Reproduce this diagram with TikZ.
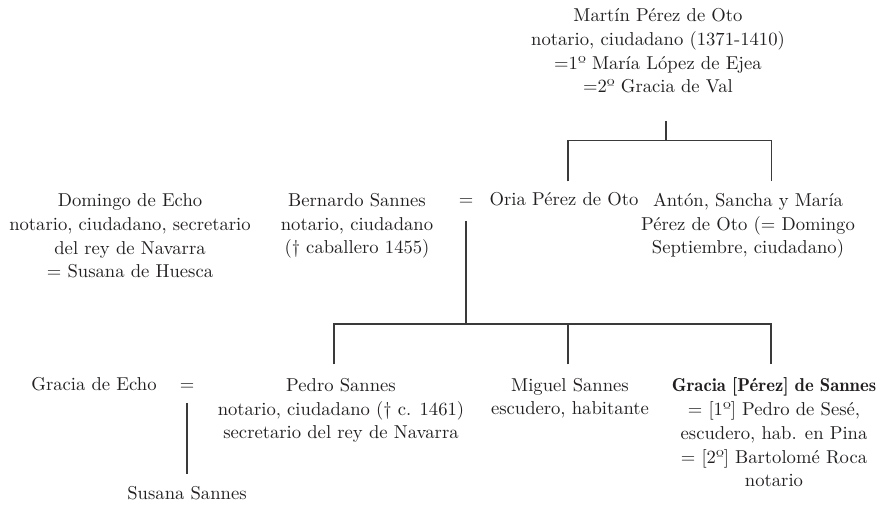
\documentclass[tikz,border=0pt]{standalone}
\usepackage{tikz}
\definecolor{ink}{HTML}{231F20}
\definecolor{rule}{HTML}{3A3A3A}

\begin{document}
\begin{tikzpicture}[x=0.2mm, y=-0.2mm,
    person/.style={align=center, anchor=base, inner sep=0pt, text=ink,
                   font=\fontsize{10.6}{13.6}\selectfont},
    tie/.style={draw=rule, line width=0.6pt}]
    \useasboundingbox (0,0) rectangle (883,505);

    % nodes sit on the baseline of their last line
    \node[person] at (658,93) (mpo) {Mart\'in P\'erez de Oto\\notario, ciudadano (1371-1410)\\=1º Mar\'ia L\'opez de Ejea\\=2º Gracia de Val};

    \node[person] at (130,278) (domingo) {Domingo de Echo\\notario, ciudadano, secretario\\del rey de Navarra\\= Susana de Huesca};
    \node[person] at (357,254) (bernardo) {Bernardo Sannes\\notario, ciudadano\\(† caballero 1455)};
    \node[person] at (466,206) (eqA) {=};
    \node[person] at (564,206) (oria) {Oria P\'erez de Oto};
    \node[person] at (748,254) (anton) {Ant\'on, Sancha y Mar\'ia\\P\'erez de Oto (= Domingo\\Septiembre, ciudadano)};

    \node[person] at (94,391) (gecho) {Gracia de Echo};
    \node[person] at (187,391) (eqB) {=};
    \node[person] at (341,439) (pedro) {Pedro Sannes\\notario, ciudadano († c. 1461)\\secretario del rey de Navarra};
    \node[person] at (570,415) (miguel) {Miguel Sannes\\escudero, habitante};
    \node[person] at (774,487) (gsannes) {{\fontseries{b}\selectfont Gracia [P\'erez] de Sannes}\\= [1º] Pedro de Ses\'e,\\escudero, hab. en Pina\\= [2º] Bartolom\'e Roca\\notario};
    \node[person] at (187,500) (susana) {Susana Sannes};

    \coordinate (mpoDrop) at (666,121);
    \coordinate (mpoJoin) at (666,140.5);
    \coordinate (oriaUp) at (568,181.5);
    \coordinate (antonUp) at (771.5,181.5);
    \coordinate (eqADrop) at (466,221);
    \coordinate (sonsJoin) at (466,324);
    \coordinate (pedroUp) at (334,364.5);
    \coordinate (miguelUp) at (568,364.5);
    \coordinate (gsannesUp) at (771,364.5);
    \coordinate (eqBDrop) at (187,403);
    \coordinate (susanaUp) at (187,474);

    \draw[tie] (mpoDrop) -- (mpoJoin);
    \draw[tie] (oriaUp) |- (mpoJoin) -| (antonUp);
    \draw[tie] (eqADrop) -- (sonsJoin);
    \draw[tie] (pedroUp) |- (sonsJoin) -| (gsannesUp);
    \draw[tie] (miguelUp) -- (miguelUp |- sonsJoin);
    \draw[tie] (eqBDrop) -- (susanaUp);
\end{tikzpicture}
\end{document}
